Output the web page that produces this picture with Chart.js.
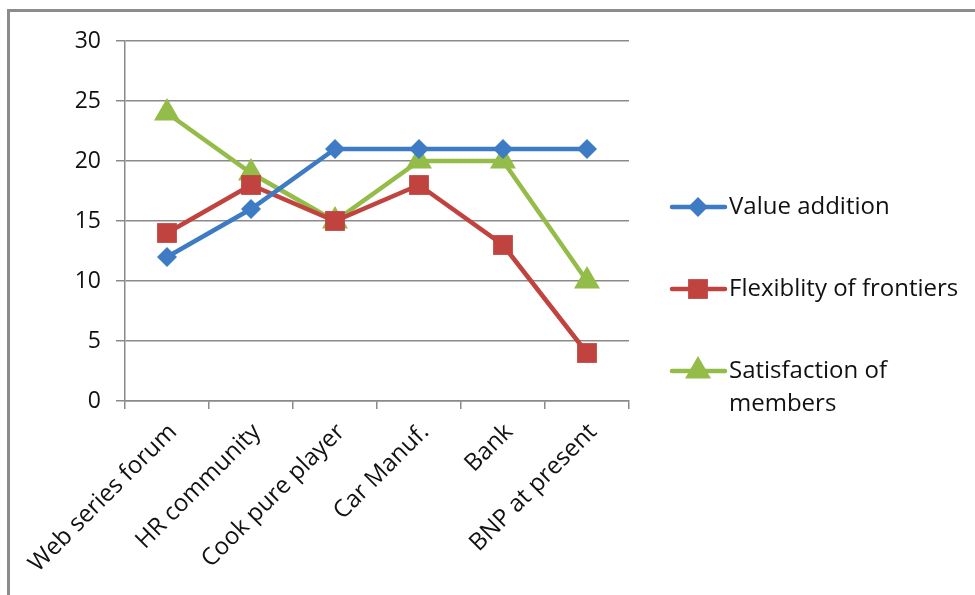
<!DOCTYPE html>
<html>
<head>
<meta charset="utf-8">
<script src="https://cdn.jsdelivr.net/npm/chart.js@4/dist/chart.umd.min.js"></script>
<style>
    html, body { margin: 0; padding: 0; background: #fff; }
    #wrap { position: relative; width: 975px; height: 595px; overflow: hidden; }
    #frame {
        position: absolute; left: 7px; top: 9px; width: 1000px; height: 700px;
        border-top: 3px solid #8c8c8c; border-left: 3px solid #8c8c8c;
    }
    #chart { position: absolute; left: 0; top: 0; }
</style>
</head>
<body>
<div id="wrap">
    <div id="frame"></div>
    <canvas id="chart" width="975" height="595"></canvas>
</div>
<script>
const categories = ["Web series forum", "HR community", "Cook pure player", "Car Manuf.", "Bank", "BNP at present"];
const valueAddition = [12, 16, 21, 21, 21, 21];
const flexibility = [14, 18, 15, 18, 13, 4];
const satisfaction = [24, 19, 15, 20, 20, 10];
const yTicks = [0, 5, 10, 15, 20, 25, 30];

const FONT = "'Open Sans', sans-serif";
const TEXT = "#111";
const GRID = "#8a8a8a";

// series styling
const series = [
    { label: "Value addition", data: valueAddition, color: "#3d7cc4", style: "rectRot", radius: 10 },
    { label: "Flexiblity of frontiers", data: flexibility, color: "#c0433f", style: "rect", radius: 14 },
    { label: "Satisfaction of members", data: satisfaction, color: "#94bc49", style: "triangle", radius: 15 },
];

// custom legend at the right, wrapping long labels like the original
const sideLegend = {
    id: "sideLegend",
    afterDraw(chart) {
        const ctx = chart.ctx;
        const rows = [207, 289, 371];
        ctx.save();
        ctx.font = "24px " + FONT;
        ctx.textBaseline = "middle";
        ctx.textAlign = "left";
        chart.data.datasets.forEach((ds, i) => {
            const y = rows[i];
            ctx.strokeStyle = ds.borderColor;
            ctx.lineWidth = 4.5;
            ctx.lineCap = "round";
            ctx.beginPath();
            ctx.moveTo(672, y);
            ctx.lineTo(725, y);
            ctx.stroke();
            ctx.fillStyle = ds.borderColor;
            Chart.helpers.drawPoint(ctx, {
                pointStyle: ds.pointStyle,
                radius: ds.pointRadius,
                rotation: 0,
                borderWidth: 0,
            }, 698, y);
            // wrap words
            const words = ds.label.split(" ");
            const lines = [];
            let cur = "";
            words.forEach((w) => {
                const test = cur ? cur + " " + w : w;
                if (ctx.measureText(test).width > 240 && cur) {
                    lines.push(cur);
                    cur = w;
                } else {
                    cur = test;
                }
            });
            lines.push(cur);
            ctx.fillStyle = TEXT;
            lines.forEach((ln, k) => ctx.fillText(ln, 729, y + k * 33));
        });
        ctx.restore();
    },
};

new Chart(document.getElementById("chart"), {
    type: "line",
    data: {
        labels: categories,
        datasets: series.map((s) => ({
            label: s.label,
            data: s.data,
            borderColor: s.color,
            backgroundColor: s.color,
            borderWidth: 4.5,
            pointStyle: s.style,
            pointRadius: s.radius,
            pointHoverRadius: s.radius,
            pointBorderWidth: 0,
            tension: 0,
        })),
    },
    options: {
        responsive: false,
        animation: false,
        layout: { padding: { left: 0, top: 41, right: 346, bottom: 0 } },
        plugins: {
            legend: { display: false },
            tooltip: { enabled: false },
        },
        scales: {
            x: {
                offset: true,
                afterFit: (scale) => { scale.height = 194; },
                grid: {
                    display: true,
                    offset: true,
                    drawOnChartArea: false,
                    drawTicks: true,
                    tickLength: 8,
                    color: GRID,
                    lineWidth: 1.5,
                },
                border: { color: GRID, width: 1.5 },
                ticks: {
                    maxRotation: 45,
                    minRotation: 45,
                    padding: 9,
                    labelOffset: 6,
                    color: TEXT,
                    font: { family: FONT, size: 24 },
                },
            },
            y: {
                min: 0,
                max: 30,
                afterFit: (scale) => { scale.width = 125; },
                afterBuildTicks: (scale) => {
                    scale.ticks = yTicks.map((v) => ({ value: v }));
                },
                grid: {
                    color: GRID,
                    lineWidth: 1.5,
                    tickLength: 9,
                },
                border: { color: GRID, width: 1.5 },
                ticks: {
                    padding: 15,
                    color: TEXT,
                    font: { family: FONT, size: 23 },
                },
            },
        },
    },
    plugins: [sideLegend],
});
</script>
</body>
</html>
